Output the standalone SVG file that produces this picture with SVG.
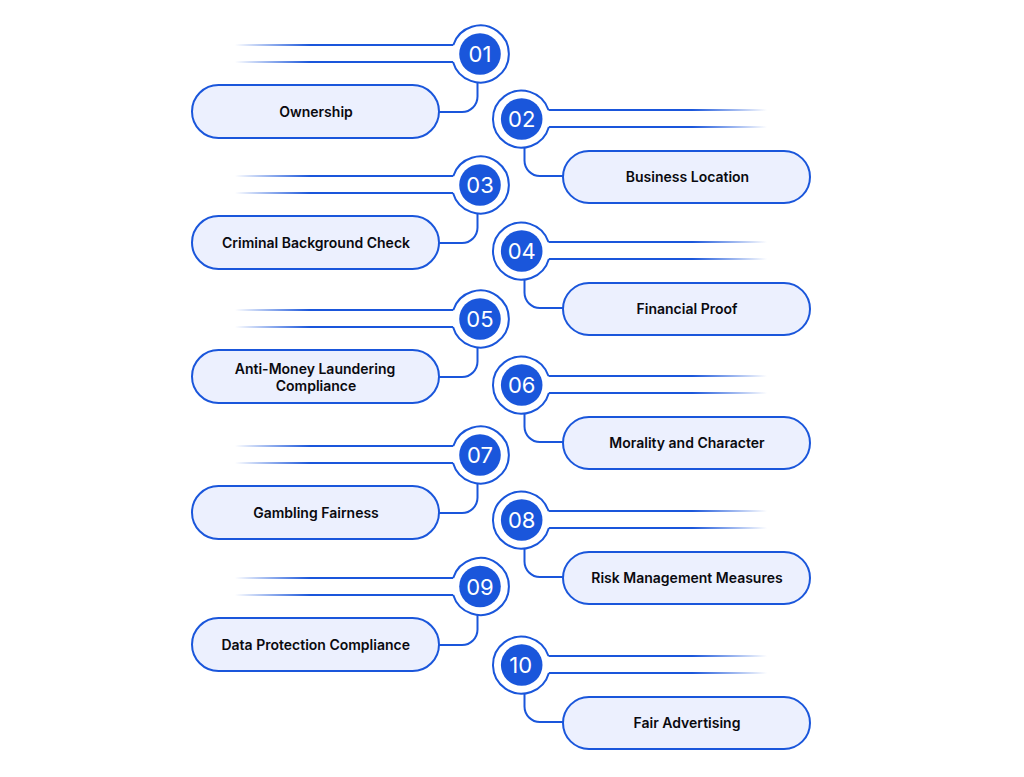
<svg xmlns="http://www.w3.org/2000/svg" width="1024" height="777" viewBox="0 0 1024 777">
<style>
.ring{fill:#fff;stroke:#1a56db;stroke-width:2}
.disc{fill:#1a56db}
.pill{fill:#ecf0fe;stroke:#1a56db;stroke-width:2}
.num{font-family:Inter,"Liberation Sans",sans-serif;font-size:22px;font-weight:400;fill:#fff;text-anchor:middle}
.lab{font-family:Inter,"Liberation Sans",sans-serif;font-size:14px;font-weight:600;fill:#0a0a0f;text-anchor:middle}
.con{fill:none;stroke:#1a56db;stroke-width:2}
.l{stroke:url(#fl);stroke-width:2;fill:none}
.r{stroke:url(#fr);stroke-width:2;fill:none}
</style>
<defs>
<linearGradient id="fl" gradientUnits="userSpaceOnUse" x1="235" y1="0" x2="310" y2="0"><stop offset="0" stop-color="#1a56db" stop-opacity="0"/><stop offset="1" stop-color="#1a56db"/></linearGradient>
<linearGradient id="fr" gradientUnits="userSpaceOnUse" x1="767" y1="0" x2="692" y2="0"><stop offset="0" stop-color="#1a56db" stop-opacity="0"/><stop offset="1" stop-color="#1a56db"/></linearGradient>
</defs>
<g id="connectors">
<path class="l" d="M235 45H454M235 62H454"/><path class="con" d="M439 112H462A15.500 15.500 0 0 0 477.500 96.500V80"/>
<path class="r" d="M767 110H548M767 127H548"/><path class="con" d="M563 176H540A15.500 15.500 0 0 1 524.500 160.500V145"/>
<path class="l" d="M235 176H454M235 193H454"/><path class="con" d="M439 243H462A15.500 15.500 0 0 0 477.500 227.500V211"/>
<path class="r" d="M767 242H548M767 259H548"/><path class="con" d="M563 308H540A15.500 15.500 0 0 1 524.500 292.500V277"/>
<path class="l" d="M235 310H454M235 327H454"/><path class="con" d="M439 377H462A15.500 15.500 0 0 0 477.500 361.500V345"/>
<path class="r" d="M767 376H548M767 393H548"/><path class="con" d="M563 442H540A15.500 15.500 0 0 1 524.500 426.500V411"/>
<path class="l" d="M235 446H454M235 463H454"/><path class="con" d="M439 513H462A15.500 15.500 0 0 0 477.500 497.500V481"/>
<path class="r" d="M767 511H548M767 528H548"/><path class="con" d="M563 577H540A15.500 15.500 0 0 1 524.500 561.500V546"/>
<path class="l" d="M235 578H454M235 595H454"/><path class="con" d="M439 645H462A15.500 15.500 0 0 0 477.500 629.500V612"/>
<path class="r" d="M767 656H548M767 673H548"/><path class="con" d="M563 722H540A15.500 15.500 0 0 1 524.500 706.500V691"/>
</g>
<g id="node-01"><path class="ring" d="M453.300 45A28.500 28.500 0 1 1 453 62"/><circle class="disc" cx="480" cy="54" r="20.800"/><text class="num" x="480" y="62">01</text><rect class="pill" x="192" y="85" width="247" height="53" rx="26.500"/><text class="lab" x="316" y="117">Ownership</text></g>
<g id="node-02"><path class="ring" d="M548.500 110A28.500 28.500 0 1 0 548.900 127"/><circle class="disc" cx="521.700" cy="119" r="20.800"/><text class="num" x="521.700" y="127">02</text><rect class="pill" x="563" y="151" width="247" height="52" rx="26"/><text class="lab" x="687.500" y="182">Business Location</text></g>
<g id="node-03"><path class="ring" d="M453.300 176A28.500 28.500 0 1 1 453 193"/><circle class="disc" cx="480" cy="185" r="20.800"/><text class="num" x="480" y="193">03</text><rect class="pill" x="192" y="216" width="247" height="53" rx="26.500"/><text class="lab" x="316" y="248">Criminal Background Check</text></g>
<g id="node-04"><path class="ring" d="M548.500 242A28.500 28.500 0 1 0 548.900 259"/><circle class="disc" cx="521.700" cy="251" r="20.800"/><text class="num" x="521.700" y="259">04</text><rect class="pill" x="563" y="283" width="247" height="52" rx="26"/><text class="lab" x="687" y="314">Financial Proof</text></g>
<g id="node-05"><path class="ring" d="M453.300 310A28.500 28.500 0 1 1 453 327"/><circle class="disc" cx="480" cy="319" r="20.800"/><text class="num" x="480" y="327">05</text><rect class="pill" x="192" y="350" width="247" height="53" rx="26.500"/><text class="lab" x="315" y="374">Anti-Money Laundering</text><text class="lab" x="316" y="391">Compliance</text></g>
<g id="node-06"><path class="ring" d="M548.500 376A28.500 28.500 0 1 0 548.900 393"/><circle class="disc" cx="521.700" cy="385" r="20.800"/><text class="num" x="521.700" y="393">06</text><rect class="pill" x="563" y="417" width="247" height="52" rx="26"/><text class="lab" x="687" y="448">Morality and Character</text></g>
<g id="node-07"><path class="ring" d="M453.300 446A28.500 28.500 0 1 1 453 463"/><circle class="disc" cx="480" cy="455" r="20.800"/><text class="num" x="480" y="463">07</text><rect class="pill" x="192" y="486" width="247" height="53" rx="26.500"/><text class="lab" x="316" y="518">Gambling Fairness</text></g>
<g id="node-08"><path class="ring" d="M548.500 511A28.500 28.500 0 1 0 548.900 528"/><circle class="disc" cx="521.700" cy="520" r="20.800"/><text class="num" x="521.700" y="528">08</text><rect class="pill" x="563" y="552" width="247" height="52" rx="26"/><text class="lab" x="687" y="583">Risk Management Measures</text></g>
<g id="node-09"><path class="ring" d="M453.200 578A28.500 28.500 0 1 1 453.200 595"/><circle class="disc" cx="480" cy="586.500" r="20.800"/><text class="num" x="480" y="594.500">09</text><rect class="pill" x="192" y="618" width="247" height="53" rx="26.500"/><text class="lab" x="315.700" y="650">Data Protection Compliance</text></g>
<g id="node-10"><path class="ring" d="M548.500 656A28.500 28.500 0 1 0 548.900 673"/><circle class="disc" cx="521.700" cy="665" r="20.800"/><text class="num" x="520.700" y="673">10</text><rect class="pill" x="563" y="697" width="247" height="52" rx="26"/><text class="lab" x="687" y="728">Fair Advertising</text></g>
</svg>
